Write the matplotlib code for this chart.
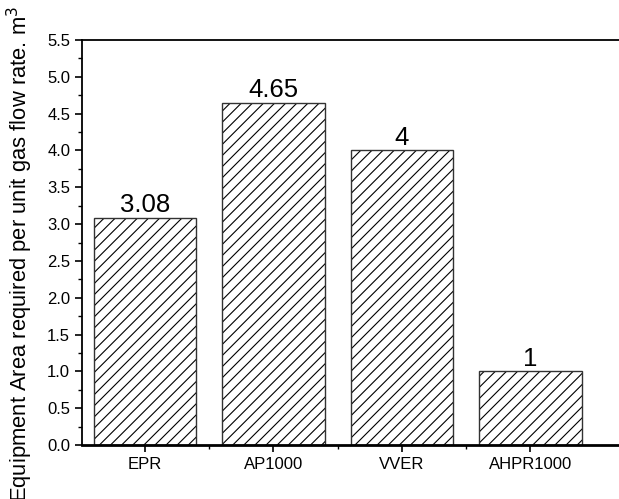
import matplotlib.pyplot as plt
import matplotlib as mpl
from matplotlib.ticker import MultipleLocator

mpl.rcParams['font.family'] = ['Liberation Sans', 'DejaVu Sans']
mpl.rcParams['hatch.linewidth'] = 0.8

reactors = ['EPR', 'AP1000', 'VVER', 'AHPR1000']
area = [3.08, 4.65, 4.0, 1.0]
labels = ['3.08', '4.65', '4', '1']

fig = plt.figure(figsize=(6.19, 4.99), dpi=100)
ax = fig.add_axes([82 / 619, 54 / 499, 580 / 619, 405 / 499])

x = list(range(len(reactors)))
bars = ax.bar(x, area, width=0.8, color='white', edgecolor='#333333',
              linewidth=1.0, hatch='///')
for b in bars:
    b._hatch_color = (0, 0, 0, 1)

for xi, v, s in zip(x, area, labels):
    ax.text(xi, v + 0.01, s, ha='center', va='bottom', fontsize=18.5)

ax.set_xlim(-0.49, -0.49 + 580 / 128.5)
ax.set_ylim(0, 5.5)
ax.set_xticks(x)
ax.set_xticklabels(reactors, fontsize=12)
ax.set_xticks([0.5, 1.5, 2.5], minor=True)
ax.yaxis.set_major_locator(MultipleLocator(0.5))
ax.yaxis.set_minor_locator(MultipleLocator(0.25))
ax.tick_params(axis='y', labelsize=12)
ax.tick_params(which='major', direction='out', length=5, width=1.2)
ax.tick_params(which='minor', direction='out', length=3, width=1.0)

ax.spines['right'].set_visible(False)
ax.spines['bottom'].set_linewidth(2.0)
ax.spines['left'].set_linewidth(1.3)
ax.spines['top'].set_linewidth(1.3)

fig.text(20 / 619, 1 - 254 / 499,
         'Equipment Area required per unit gas flow rate. m$^3$',
         rotation=90, ha='center', va='center', fontsize=15.8)

fig.savefig('out.png', dpi=100)
